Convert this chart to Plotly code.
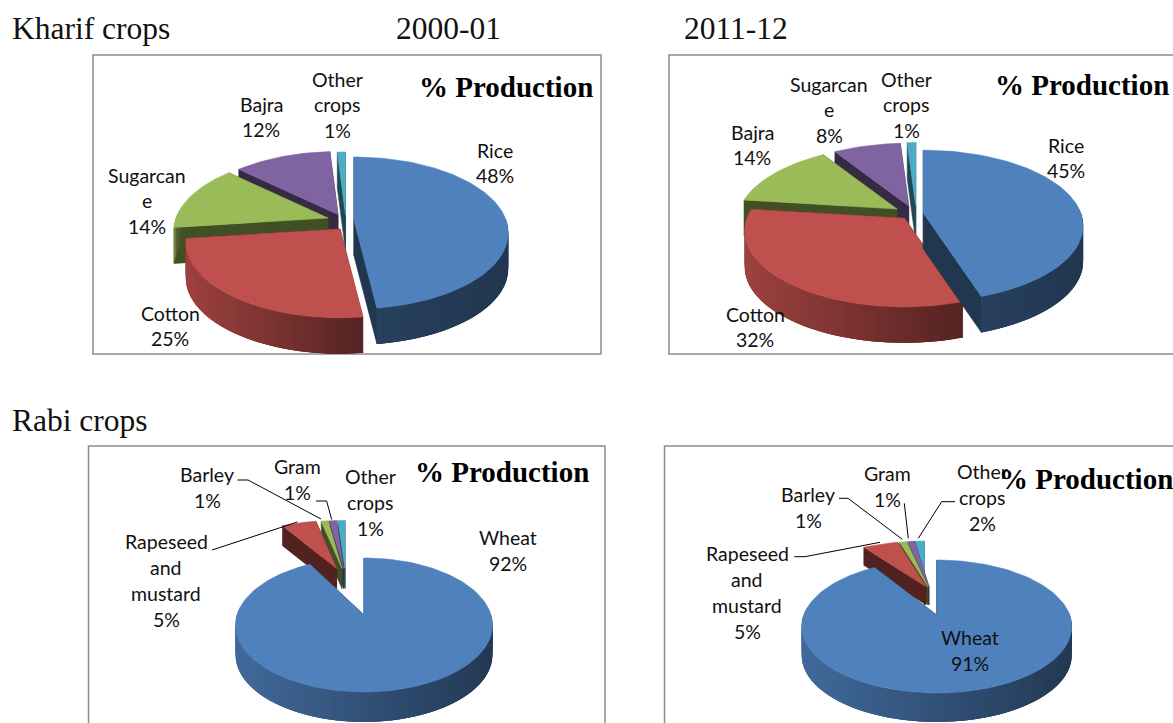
import math
import plotly.graph_objects as go

# ---------- data ----------
kharif_2000_names = ["Rice", "Cotton", "Sugarcan|e", "Bajra", "Other|crops"]
kharif_2000_values = [48, 25, 14, 12, 1]
kharif_2011_names = ["Rice", "Cotton", "Bajra", "Sugarcan|e", "Other|crops"]
kharif_2011_values = [45, 32, 14, 8, 1]
rabi_2000_names = ["Wheat", "Rapeseed|and|mustard", "Barley", "Gram", "Other|crops"]
rabi_2000_values = [92, 5, 1, 1, 1]
rabi_2011_names = ["Wheat", "Rapeseed|and|mustard", "Barley", "Gram", "Other|crops"]
rabi_2011_values = [91, 5, 1, 1, 2]
slice_colors = ["#4F81BD", "#C0504D", "#9BBB59", "#8064A2", "#4BACC6"]
box_title = "% Production"

# ---------- layout of the four panels (page pixels, not data) ----------
panels = [
    dict(names=kharif_2000_names, values=kharif_2000_values,
         box=(93, 55, 601, 354), rx=152, ry=73.7, k=0.17,
         slices=[(354, 220, 1, 36), (340, 229, 1, 36), (328, 218, 1, 36), (338, 214.5, 1, 36), (345.5, 215, 1, 36)],
         labels=[(495, 150), (170, 313), (147, 175), (261, 104), (337, 79)], pitch=25.5,
         title=(506, 87), leaders=[]),
    dict(names=kharif_2011_names, values=kharif_2011_values,
         box=(669, 55, 1190, 354), rx=157.5, ry=73.5, k=0.17,
         slices=[(923.3, 213, 1, 36), (904.5, 218.3, 1, 36), (897, 209, 1, 36), (908.7, 206, 1, 36), (915.7, 205.4, 1, 36)],
         labels=[(1066, 145), (755, 314), (752, 132), (829, 84), (906, 79)], pitch=25.5,
         title=(1082, 85), leaders=[]),
    dict(names=rabi_2000_names, values=rabi_2000_values,
         box=(88.5, 446, 605, 760), rx=127, ry=65.5, k=0.149,
         slices=[(364, 615, 1, 30), (336.6, 568.4, .84, 20), (342, 568.4, .84, 20), (343.5, 568.4, .84, 20), (345, 568.4, .84, 20)],
         labels=[(508, 537), (166, 541), (207, 474), (297, 466), (370, 476)], pitch=26,
         title=(502, 472),
         leaders=[[(212, 550), (297.5, 522)], [(237.5, 480), (248, 480), (321, 519)], [(316, 501), (326.6, 501), (331.7, 519.5)]]),
    dict(names=rabi_2011_names, values=rabi_2011_values,
         box=(664.5, 446, 1190, 760), rx=133, ry=64.5, k=0.173,
         slices=[(936.7, 615, 1, 29), (926, 586.7, .83, 18), (928, 586.7, .83, 18), (929, 586.7, .83, 18), (924.5, 586.7, .83, 18)],
         labels=[(970, 637), (747, 553), (808, 494), (887, 473), (982, 471)], pitch=26,
         title=(1086, 479),
         leaders=[[(794.3, 556.7), (805, 556.7), (880, 542.3)], [(839, 498.3), (848, 498.3), (902.3, 539.3)],
                  [(904.3, 503.3), (908.3, 538.3)], [(955, 501.7), (941.7, 501.7), (918.3, 538.3)]]),
]
page_texts = [("Kharif crops", 11, 28), ("2000-01", 395, 28), ("2011-12", 683, 28), ("Rabi crops", 11, 420)]

LABEL_FONT = dict(family="Lato", size=19.5, color="#111111")
HEAD_FONT = dict(family="Liberation Serif", size=31.5, color="#111111")
TITLE_FONT = dict(family="Liberation Serif", size=29, color="#000000")


def shade(hex_color, f):
    r, g, b = int(hex_color[1:3], 16), int(hex_color[3:5], 16), int(hex_color[5:7], 16)
    return f"rgb({r * f:.0f},{g * f:.0f},{b * f:.0f})"


def rim(theta, p, ys):
    """Perspective projection of a point on the pie's rim, relative to the apex."""
    s, c = math.sin(theta), math.cos(theta)
    w = 1 + p["k"] * c
    return p["rx"] * s / w, -p["ry"] * ys * c / w


fig = go.Figure()


def poly(xs, ys, color, lw=0.6):
    fig.add_trace(go.Scatter(x=xs, y=ys, mode="lines", fill="toself", fillcolor=color,
                             line=dict(color=color, width=lw), hoverinfo="skip", showlegend=False))


def draw_slice(p, ax, ay, ys, depth, a0, a1, color):
    n = max(3, int((a1 - a0) / math.radians(2)))
    thetas = [a0 + (a1 - a0) * i / n for i in range(n + 1)]
    arc = [rim(t, p, ys) for t in thetas]
    # cut faces
    for dx, dy in (arc[0], arc[-1]):
        poly([ax, ax + dx, ax + dx, ax, ax], [ay, ay + dy, ay + dy + depth, ay + depth, ay], shade(color, 0.42))
    # outer wall with horizontal gradient: overlapping strips, so no seams show
    vis = [i for i in range(n) if math.cos(thetas[i]) < 0.05 or math.cos(thetas[i + 1]) < 0.05]
    if vis:
        xs = [arc[i][0] for i in vis] + [arc[vis[-1] + 1][0]]
        lo, hi = min(xs), max(xs)
        f0, f1 = (0.5, 0.42) if a1 < math.pi else (0.82, 0.44)
        # paint from the far end so each strip overlaps its neighbour
        for i in vis:
            u = ((arc[i][0] + arc[i + 1][0]) / 2 - lo) / ((hi - lo) or 1)
            c = shade(color, f0 + (f1 - f0) * u)
            j = min(i + 3, n)
            seg = arc[i:j + 1]
            xp = [ax + q[0] for q in seg] + [ax + q[0] for q in reversed(seg)]
            yp = [ay + q[1] for q in seg] + [ay + q[1] + depth for q in reversed(seg)]
            poly(xp + xp[:1], yp + yp[:1], c, 0)
    # top surface
    poly([ax] + [ax + a[0] for a in arc] + [ax], [ay] + [ay + a[1] for a in arc] + [ay], color)


annotations = []


def text(x, y, s, font, xanchor="center"):
    annotations.append(dict(x=x, y=y, text=s, font=font, showarrow=False, xref="x", yref="y",
                            xanchor=xanchor, yanchor="middle", borderpad=0))


shapes = []
for p in panels:
    x0, y0, x1, y1 = p["box"]
    shapes.append(dict(type="rect", x0=x0, y0=y0, x1=x1, y1=y1, xref="x", yref="y",
                       line=dict(color="#8c8c8c", width=1.5), fillcolor="white", layer="below"))
    total = sum(p["values"])
    angles, acc = [], 0
    for v in p["values"]:
        angles.append((acc / total * 2 * math.pi, (acc + v) / total * 2 * math.pi))
        acc += v
    for i in reversed(range(len(p["values"]))):
        ax, ay, ys, depth = p["slices"][i]
        draw_slice(p, ax, ay, ys, depth, angles[i][0], angles[i][1], slice_colors[i])
    for pts in p["leaders"]:
        fig.add_trace(go.Scatter(x=[q[0] for q in pts], y=[q[1] for q in pts], mode="lines",
                                 line=dict(color="#000000", width=1), hoverinfo="skip", showlegend=False))
    for name, v, (lx, ly) in zip(p["names"], p["values"], p["labels"]):
        lines = name.split("|") + [f"{v}%"]
        for j, s in enumerate(lines):
            text(lx, ly + j * p["pitch"], s, LABEL_FONT)
    text(p["title"][0], p["title"][1], f"<b>{box_title}</b>", TITLE_FONT)

for s, x, y in page_texts:
    text(x, y, s, HEAD_FONT, xanchor="left")

fig.update_layout(
    width=1173, height=723, margin=dict(l=0, r=0, t=0, b=0),
    paper_bgcolor="white", plot_bgcolor="white", showlegend=False,
    xaxis=dict(range=[0, 1173], visible=False, fixedrange=True),
    yaxis=dict(range=[723, 0], visible=False, fixedrange=True),
    shapes=shapes, annotations=annotations,
)
fig.write_html("out.html", config=dict(displayModeBar=False),
               post_script="document.body.style.margin='0';document.body.style.overflow='hidden';")
